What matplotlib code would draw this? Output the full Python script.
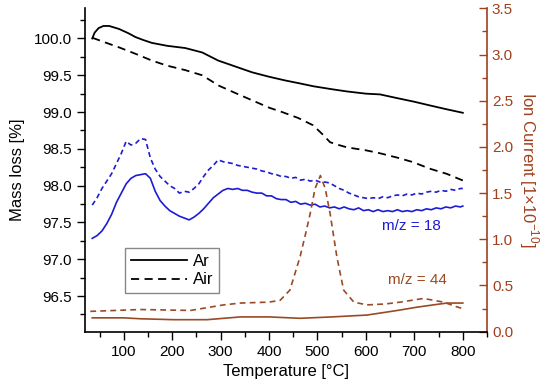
import numpy as np
import matplotlib
matplotlib.use('Agg')
import matplotlib.pyplot as plt
from matplotlib.ticker import MultipleLocator

plt.rcParams['font.family'] = ['Liberation Sans', 'DejaVu Sans']
plt.rcParams['mathtext.fontset'] = 'custom'
plt.rcParams['mathtext.rm'] = 'Liberation Sans'

# mass loss (TG), left axis
t_mass_ar = [35, 40, 48, 58, 70, 90, 110, 124, 140, 158, 190, 227, 262, 295, 330,
             365, 400, 433, 463, 492, 530, 561, 600, 629, 664, 700, 732, 765, 800]
mass_ar = [100.0, 100.08, 100.14, 100.17, 100.17, 100.13, 100.07, 100.02, 99.98, 99.94,
           99.9, 99.87, 99.81, 99.70, 99.62, 99.54, 99.48, 99.43, 99.39, 99.35, 99.31,
           99.28, 99.25, 99.24, 99.19, 99.14, 99.09, 99.04, 98.99]

t_mass_air = [35, 60, 90, 125, 158, 190, 227, 262, 296, 330, 365, 400, 427, 460, 491,
              510, 526, 545, 561, 600, 629, 665, 697, 732, 767, 800]
mass_air = [100.01, 99.95, 99.88, 99.79, 99.70, 99.63, 99.57, 99.50, 99.36, 99.26, 99.16,
            99.06, 99.0, 98.92, 98.82, 98.70, 98.59, 98.55, 98.52, 98.48, 98.44, 98.38,
            98.32, 98.23, 98.16, 98.07]

# ion current m/z = 18, right axis
t_ms18 = list(range(35, 800, 10)) + [800]
ms18_ar = [1.01, 1.04, 1.09, 1.17, 1.27, 1.40, 1.50, 1.60, 1.66, 1.69, 1.70, 1.71, 1.66,
           1.52, 1.42, 1.36, 1.31, 1.28, 1.25, 1.23, 1.21, 1.24, 1.28, 1.33, 1.39, 1.45,
           1.49, 1.53, 1.55, 1.54, 1.55, 1.53, 1.53, 1.51, 1.50, 1.50, 1.47, 1.47, 1.44,
           1.43, 1.43, 1.40, 1.41, 1.38, 1.39, 1.37, 1.38, 1.35, 1.36, 1.34, 1.35, 1.33,
           1.35, 1.33, 1.32, 1.34, 1.31, 1.32, 1.30, 1.32, 1.30, 1.31, 1.30, 1.32, 1.30,
           1.31, 1.30, 1.32, 1.31, 1.33, 1.32, 1.34, 1.33, 1.35, 1.34, 1.36, 1.35, 1.36]
ms18_air = [1.37, 1.45, 1.55, 1.63, 1.71, 1.82, 1.93, 2.06, 2.02, 2.04, 2.09, 2.08, 1.88,
            1.76, 1.68, 1.63, 1.58, 1.55, 1.50, 1.52, 1.51, 1.55, 1.60, 1.68, 1.75, 1.80,
            1.86, 1.84, 1.83, 1.82, 1.80, 1.79, 1.78, 1.77, 1.76, 1.74, 1.73, 1.71, 1.70,
            1.68, 1.68, 1.66, 1.67, 1.64, 1.65, 1.63, 1.64, 1.62, 1.62, 1.61, 1.58, 1.55,
            1.53, 1.50, 1.48, 1.46, 1.45, 1.44, 1.45, 1.44, 1.46, 1.45, 1.47, 1.48, 1.47,
            1.49, 1.48, 1.50, 1.49, 1.51, 1.52, 1.51, 1.53, 1.52, 1.54, 1.53, 1.55, 1.55]

# ion current m/z = 44
t_ms44_ar = [35, 100, 134, 203, 272, 341, 400, 464, 530, 602, 640, 671, 705, 739, 767, 785, 800]
ms44_ar = [0.15, 0.15, 0.14, 0.13, 0.13, 0.16, 0.16, 0.145, 0.16, 0.18, 0.21, 0.235,
           0.265, 0.29, 0.31, 0.31, 0.31]
t_ms44_air = [31, 134, 238, 306, 341, 400, 423, 443, 464, 475, 485, 495, 506, 516, 526,
              540, 554, 575, 602, 640, 671, 719, 760, 787, 800]
ms44_air = [0.22, 0.24, 0.23, 0.29, 0.31, 0.32, 0.34, 0.45, 0.81, 1.05, 1.28, 1.55, 1.69,
            1.55, 1.28, 0.81, 0.45, 0.32, 0.29, 0.30, 0.32, 0.36, 0.32, 0.27, 0.25]

blue = '#1c1cd4'
brown = '#9a4a24'
red = '#a0401e'
dash = (0, (4.5, 3))

fig = plt.figure(figsize=(5.5, 3.9), dpi=100)
ax = fig.add_axes([0.1545, 0.1495, 0.731, 0.8292])
ax2 = ax.twinx()

ax.plot(t_mass_ar, mass_ar, color='black', lw=1.3, label='Ar')
ax.plot(t_mass_air, mass_air, color='black', lw=1.3, ls=dash, label='Air')

ax2.plot(t_ms18, ms18_ar, color=blue, lw=1.2)
ax2.plot(t_ms18, ms18_air, color=blue, lw=1.2, ls=(0, (3, 2)))
ax2.plot(t_ms44_ar, ms44_ar, color=brown, lw=1.2)
ax2.plot(t_ms44_air, ms44_air, color=brown, lw=1.2, ls=(0, (3.5, 2.5)))

ax2.text(693, 1.14, 'm/z = 18', color=blue, fontsize=11, ha='center', va='center')
ax2.text(706, 0.56, 'm/z = 44', color=brown, fontsize=11, ha='center', va='center')

ax.set_xlim(20, 850)
ax.set_ylim(96.015, 100.41)
ax2.set_ylim(0, 3.5)

ax.xaxis.set_major_locator(MultipleLocator(100))
ax.xaxis.set_minor_locator(MultipleLocator(50))
ax.yaxis.set_major_locator(MultipleLocator(0.5))
ax.yaxis.set_minor_locator(MultipleLocator(0.25))
ax2.yaxis.set_major_locator(MultipleLocator(0.5))
ax2.yaxis.set_minor_locator(MultipleLocator(0.25))
ax.yaxis.set_major_formatter(matplotlib.ticker.FormatStrFormatter('%.1f'))
ax2.yaxis.set_major_formatter(matplotlib.ticker.FormatStrFormatter('%.1f'))

ax.set_xticks([t for t in range(100, 801, 100)])
ax.tick_params(axis='both', which='major', direction='out', length=6, width=1, labelsize=11)
ax.tick_params(axis='both', which='minor', direction='out', length=3.5, width=1)
ax2.tick_params(axis='y', which='major', direction='in', length=6, width=1,
                labelsize=11, colors=red)
ax2.tick_params(axis='y', which='minor', direction='in', length=3.5, width=1, colors=red)

for a in (ax, ax2):
    a.spines['top'].set_visible(False)
ax.spines['right'].set_visible(False)
ax2.spines['left'].set_visible(False)
ax2.spines['bottom'].set_visible(False)
ax2.spines['right'].set_color(red)
ax2.spines['right'].set_linewidth(1.2)
ax.spines['left'].set_linewidth(1.2)
ax.spines['bottom'].set_linewidth(1.2)

ax.set_xlabel('Temperature [°C]', fontsize=12, labelpad=4)
ax.set_ylabel('Mass loss [%]', fontsize=12, labelpad=6)
ax2.set_ylabel(r'Ion Current [1×10$^{\mathregular{-10}}$]', fontsize=12, color=red,
               rotation=270, labelpad=20)

leg = ax.legend(loc='lower left', bbox_to_anchor=(0.0995, 0.119), borderaxespad=0,
                fancybox=False, edgecolor='#888888', fontsize=12, handlelength=3.4,
                handletextpad=0.3, borderpad=0.35, labelspacing=0.2, framealpha=1)
leg.get_frame().set_linewidth(1.0)
leg.set_zorder(5)
ax.set_zorder(ax2.get_zorder() + 1)
ax.patch.set_visible(False)

fig.savefig('out.png', dpi=100)
